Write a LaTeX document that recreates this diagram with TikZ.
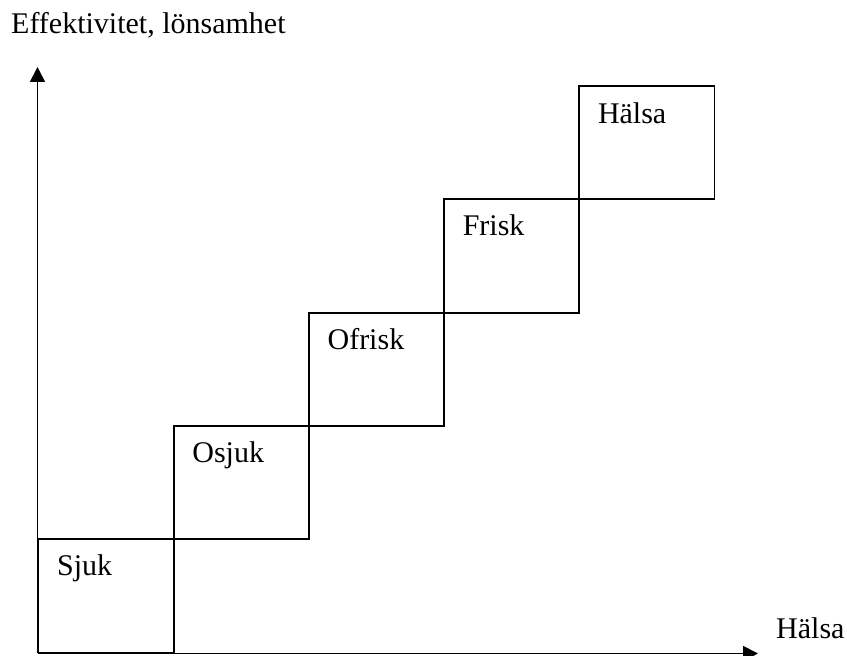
\documentclass[tikz,border=0pt]{standalone}
\usepackage{fontspec}
\setmainfont{Liberation Serif}
\usetikzlibrary{arrows.meta,calc}
\begin{document}
\begin{tikzpicture}[x=1pt,y=1pt,
  stair/.style={draw,line width=1.9pt,rectangle,inner sep=0pt,anchor=south west,
    minimum width=135.2pt,minimum height=113.3pt},
  axis/.style={line width=1.8pt,-{Triangle[length=15pt,width=15pt]}},
  txt/.style={inner sep=0pt,anchor=base west,font=\fontsize{30}{36}\selectfont},
  inlabel/.style={txt}]
\useasboundingbox (0,0) rectangle (847,656);

% origin and axis ends
\coordinate (O) at (37.5,2.5);
\coordinate (ytip) at (37.5,589);
\coordinate (xtip) at (758,2.5);

% staircase of boxes
\node[stair] (b0) at (37.5,2.5) {};
\node[stair] (b1) at (172.7,115.8) {};
\node[stair] (b2) at (307.9,229.1) {};
\node[stair] (b3) at (443.1,342.4) {};
\node[stair] (b4) at (578.3,455.7) {};

% box labels
\node[inlabel] (l0) at ($(b0.north west)+(19.5,-37.5)$) {Sjuk};
\node[inlabel] (l1) at ($(b1.north west)+(19.5,-37.5)$) {Osjuk};
\node[inlabel] (l2) at ($(b2.north west)+(19.5,-37.5)$) {Ofrisk};
\node[inlabel] (l3) at ($(b3.north west)+(19.5,-37.5)$) {Frisk};
\node[inlabel] (l4) at ($(b4.north west)+(19.5,-38.5)$) {Hälsa};

% axes
\draw[axis] (O) -- (ytip);
\draw[axis] (O) -- (xtip);

% axis labels
\node[txt] (ylab) at (11,622) {Effektivitet, lönsamhet};
\node[txt] (xlab) at (776,17) {Hälsa};
\end{tikzpicture}
\end{document}
